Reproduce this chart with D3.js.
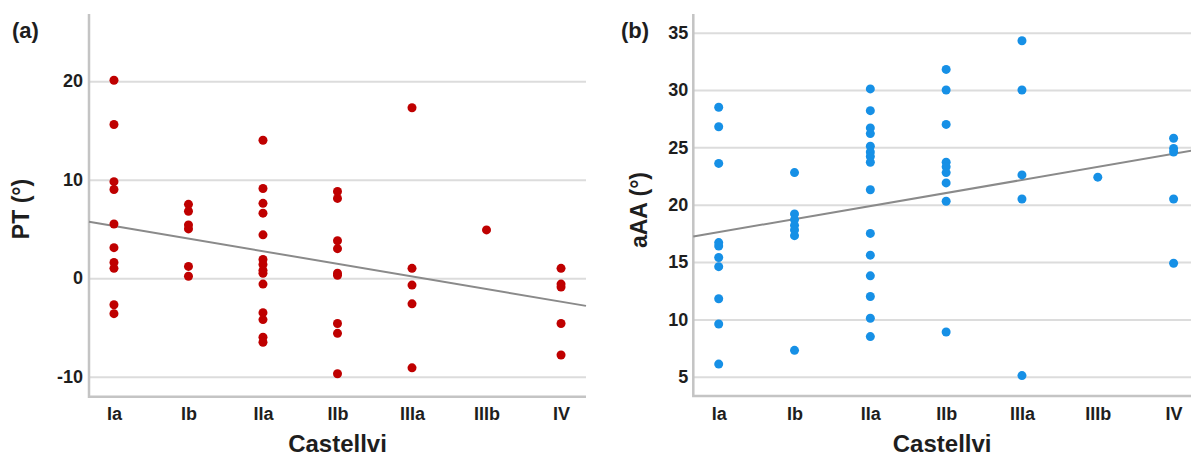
<!DOCTYPE html>
<html>
<head>
<meta charset="utf-8">
<script src="https://cdn.jsdelivr.net/npm/d3@7"></script>
<style>
  body { margin: 0; background: #fff; }
  svg { display: block; font-family: "Liberation Sans", Arial, sans-serif; font-weight: bold; }
  .grid line { stroke: #dcdcdc; stroke-width: 2px; }
  .tick text { fill: #1e1e1e; }
</style>
</head>
<body>
<div id="chart"></div>
<script>
// Castellvi categories
var categories = ["Ia", "Ib", "IIa", "IIb", "IIIa", "IIIb", "IV"];

// (a) PT values per category
var ptIa   = [20.1, 15.6, 9.8, 9.0, 5.5, 3.1, 1.6, 1.0, -2.7, -3.6];
var ptIb   = [7.5, 6.8, 5.4, 5.0, 1.2, 0.2];
var ptIIa  = [14.0, 9.1, 7.6, 6.6, 4.4, 1.9, 1.4, 0.8, 0.5, -0.6, -3.5, -4.2, -6.0, -6.5];
var ptIIb  = [8.8, 8.1, 3.8, 3.0, 0.5, 0.3, -4.6, -5.6, -9.7];
var ptIIIa = [17.3, 1.0, -0.7, -2.6, -9.1];
var ptIIIb = [4.9];
var ptIV   = [1.0, -0.6, -0.9, -4.6, -7.8];

// (b) aAA values per category
var aaIa   = [28.5, 26.8, 23.6, 16.7, 16.4, 15.4, 14.6, 11.8, 9.6, 6.1];
var aaIb   = [22.8, 19.2, 18.7, 18.2, 17.8, 17.3, 7.3];
var aaIIa  = [30.1, 28.2, 26.7, 26.2, 25.1, 24.6, 24.2, 23.7, 21.3, 17.5, 15.6, 13.8, 12.0, 10.1, 8.5];
var aaIIb  = [31.8, 30.0, 27.0, 23.7, 23.3, 22.8, 21.9, 20.3, 8.9];
var aaIIIa = [34.3, 30.0, 22.6, 20.5, 5.1];
var aaIIIb = [22.4];
var aaIV   = [25.8, 24.9, 24.6, 20.5, 14.9];

// fitted lines: value = intercept + slope * category index (1..7)
var ptFit = [6.58, -1.28];
var aaFit = [16.47, 1.138];

var ptTicks = [-10, 0, 10, 20];
var aaTicks = [5, 10, 15, 20, 25, 30, 35];

var ptGroups = [ptIa, ptIb, ptIIa, ptIIb, ptIIIa, ptIIIb, ptIV];
var aaGroups = [aaIa, aaIb, aaIIa, aaIIb, aaIIIa, aaIIIb, aaIV];

var W = 1191, H = 456;
var svg = d3.select("#chart").append("svg").attr("width", W).attr("height", H);

function panel(opt) {
	var pts = [];
	opt.groups.forEach(function(vals, i) {
		vals.forEach(function(v) { pts.push({c: i + 1, v: v}); });
	});

	var x = d3.scaleLinear().domain([0.665, 7.335]).range([opt.left, opt.right]);
	var y = d3.scaleLinear().domain(opt.ydom).range([opt.bottom, opt.top]);

	var g = svg.append("g");

	// horizontal grid + y labels
	var ya = g.append("g")
		.attr("class", "grid")
		.attr("transform", "translate(" + opt.left + ",0)")
		.call(d3.axisLeft(y).tickValues(opt.ticks).tickFormat(function(d) { return String(d); })
			.tickSize(-(opt.right - opt.left)).tickPadding(opt.tickPad));
	ya.select(".domain").remove();
	ya.selectAll("text").style("font-size", "18px");

	// x labels
	var xa = g.append("g")
		.attr("transform", "translate(0," + opt.bottom + ")")
		.call(d3.axisBottom(x).tickValues(d3.range(1, 8)).tickFormat(function(d) { return categories[d - 1]; })
			.tickSize(0).tickPadding(11));
	xa.select(".domain").remove();
	xa.selectAll("text").style("font-size", "18px");

	// axis lines
	g.append("path")
		.attr("d", "M" + opt.left + "," + opt.top + "V" + opt.bottom + "H" + opt.right)
		.attr("fill", "none")
		.attr("stroke", "#c4c4c4")
		.attr("stroke-width", 2.5);

	// fit line
	var d0 = x.domain()[0], d1 = x.domain()[1];
	g.append("line")
		.attr("x1", x(d0)).attr("y1", y(opt.fit[0] + opt.fit[1] * d0))
		.attr("x2", x(d1)).attr("y2", y(opt.fit[0] + opt.fit[1] * d1))
		.attr("stroke", "#8a8a8a")
		.attr("stroke-width", 2);

	g.selectAll(".dot")
		.data(pts)
		.enter().append("circle")
		.attr("class", "dot")
		.attr("cx", function(d) { return x(d.c); })
		.attr("cy", function(d) { return y(d.v); })
		.attr("r", 4.5)
		.attr("fill", opt.color);

	// titles
	g.append("text")
		.attr("x", opt.left + (opt.labelRight - opt.left) / 2)
		.attr("y", 452)
		.attr("text-anchor", "middle")
		.style("font-size", "24px")
		.attr("fill", "#1e1e1e")
		.text("Castellvi");

	g.append("text")
		.attr("transform", "translate(" + opt.ylabX + "," + opt.ylabY + ") rotate(-90)")
		.attr("text-anchor", "middle")
		.style("font-size", "23px")
		.attr("fill", "#1e1e1e")
		.text(opt.ylab);

	g.append("text")
		.attr("x", opt.tagX)
		.attr("y", 38)
		.style("font-size", "22px")
		.attr("fill", "#1e1e1e")
		.text(opt.tag);
}

panel({
	groups: ptGroups, ticks: ptTicks, fit: ptFit, color: "#bf0000",
	left: 89, right: 586, labelRight: 586, top: 14, bottom: 396.7, ydom: [-12.03, 26.82],
	tickPad: 6, ylab: "PT (°)", ylabX: 29, ylabY: 209, tag: "(a)", tagX: 12
});

panel({
	groups: aaGroups, ticks: aaTicks, fit: aaFit, color: "#1690e6",
	left: 693.3, right: 1199, labelRight: 1191, top: 14, bottom: 396, ydom: [3.32, 36.63],
	tickPad: 5, ylab: "aAA (°)", ylabX: 647, ylabY: 210, tag: "(b)", tagX: 621
});
</script>
</body>
</html>
